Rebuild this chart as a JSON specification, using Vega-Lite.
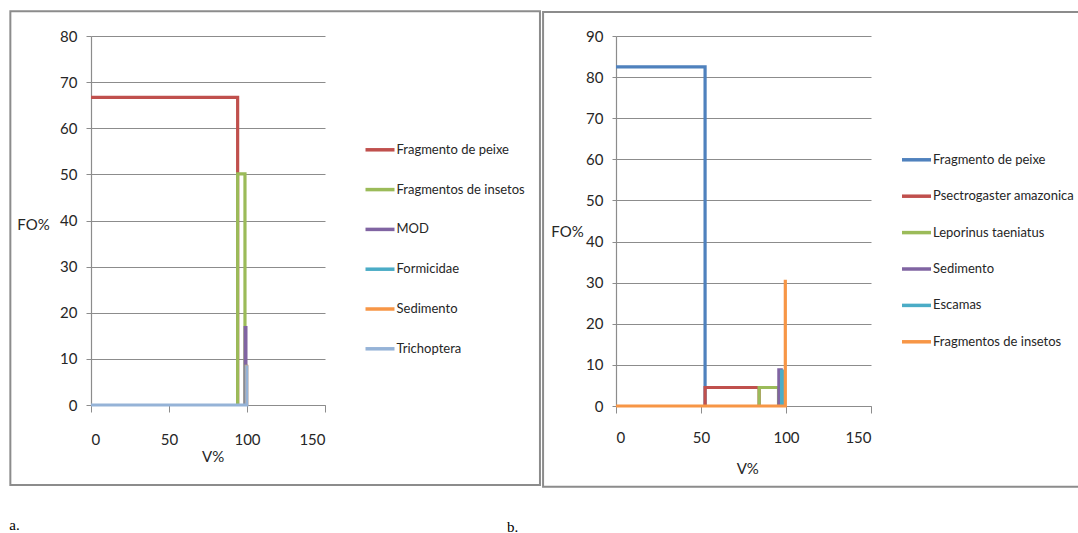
{
  "$schema": "https://vega.github.io/schema/vega-lite/v6.json",
  "padding": {"left": 9, "top": 10, "right": 0, "bottom": 0},
  "background": "white",
  "spacing": -34,
  "config": {
    "view": {"stroke": null},
    "font": "Lato",
    "axis": {
      "labelFont": "Lato", "labelFontSize": 15, "labelColor": "#262626",
      "titleFont": "Lato", "titleFontSize": 15, "titleFontWeight": "normal", "titleColor": "#262626",
      "domainColor": "#8c8c8c", "tickColor": "#8c8c8c", "gridColor": "#8c8c8c", "domainWidth": 1.2, "gridWidth": 1
    },
    "legend": {
      "labelFont": "Lato", "labelFontSize": 13, "labelColor": "#262626", "symbolType": "stroke",
      "symbolSize": 841, "symbolStrokeWidth": 3.5, "labelOffset": 0, "padding": 0, "labelLimit": 300
    },
    "title": {"font": "Liberation Serif", "fontSize": 15, "fontWeight": "normal", "color": "#000"}
  },
  "resolve": {"scale": {"color": "independent", "x": "independent", "y": "independent"}, "legend": {"color": "independent"}},
  "hconcat": [
    {
      "width": 234, "height": 369,
      "title": {"text": "a.", "orient": "bottom", "anchor": "start", "offset": 44, "baseline": "alphabetic"},
      "layer": [
        {
          "data": {"values": [{}]},
          "mark": {"type": "rect", "fillOpacity": 0, "stroke": "#8c8c8c", "strokeWidth": 2},
          "encoding": {
            "x": {"datum": -51.7, "type": "quantitative", "scale": {"domain": [0, 150], "nice": false, "zero": false},
              "axis": {"values": [0, 50, 100, 150], "grid": false, "tickSize": 7, "labelPadding": 20, "title": "V%", "titleX": 121.6, "titleY": 51.7, "titleAlign": "center", "titleBaseline": "middle"}},
            "x2": {"datum": 287.8},
            "y": {"datum": 85.35, "type": "quantitative", "scale": {"domain": [0, 80], "nice": false, "zero": false},
              "axis": {"values": [0, 10, 20, 30, 40, 50, 60, 70, 80], "grid": true, "tickSize": 5, "labelPadding": 9, "title": "FO%", "titleAngle": 0, "titleX": -58, "titleY": 188, "titleAlign": "center", "titleBaseline": "middle"}},
            "y2": {"datum": -17.33}
          }
        },
        {
          "data": {"values": [
            {"item": "Fragmento de peixe", "i": 1, "V": 0, "FO": 66.7},
            {"item": "Fragmento de peixe", "i": 2, "V": 94, "FO": 66.7},
            {"item": "Fragmento de peixe", "i": 3, "V": 94, "FO": 0},
            {"item": "Fragmentos de insetos", "i": 1, "V": 94, "FO": 0},
            {"item": "Fragmentos de insetos", "i": 2, "V": 94, "FO": 50.1},
            {"item": "Fragmentos de insetos", "i": 3, "V": 98.7, "FO": 50.1},
            {"item": "Fragmentos de insetos", "i": 4, "V": 98.7, "FO": 0},
            {"item": "MOD", "i": 1, "V": 98.8, "FO": 0},
            {"item": "MOD", "i": 2, "V": 98.8, "FO": 16.8},
            {"item": "MOD", "i": 3, "V": 99.3, "FO": 16.8},
            {"item": "MOD", "i": 4, "V": 99.3, "FO": 0},
            {"item": "Formicidae", "i": 1, "V": 99.4, "FO": 0},
            {"item": "Formicidae", "i": 2, "V": 99.4, "FO": 8.4},
            {"item": "Formicidae", "i": 3, "V": 99.6, "FO": 8.4},
            {"item": "Formicidae", "i": 4, "V": 99.6, "FO": 0},
            {"item": "Sedimento", "i": 1, "V": 99.6, "FO": 0},
            {"item": "Sedimento", "i": 2, "V": 99.6, "FO": 8.4},
            {"item": "Sedimento", "i": 3, "V": 99.8, "FO": 8.4},
            {"item": "Sedimento", "i": 4, "V": 99.8, "FO": 0},
            {"item": "Trichoptera", "i": 1, "V": 0, "FO": 0},
            {"item": "Trichoptera", "i": 2, "V": 99.9, "FO": 0},
            {"item": "Trichoptera", "i": 3, "V": 99.9, "FO": 8.6}
          ]},
          "mark": {"type": "line", "strokeWidth": 3.2},
          "encoding": {
            "x": {"field": "V", "type": "quantitative", "scale": {"domain": [0, 150], "nice": false, "zero": false},
              "axis": {"values": [0, 50, 100, 150], "grid": false, "tickSize": 7, "labelPadding": 20, "title": "V%", "titleX": 121.6, "titleY": 51.7, "titleAlign": "center", "titleBaseline": "middle"}},
            "y": {"field": "FO", "type": "quantitative", "scale": {"domain": [0, 80], "nice": false, "zero": false},
              "axis": {"values": [0, 10, 20, 30, 40, 50, 60, 70, 80], "grid": true, "tickSize": 5, "labelPadding": 9, "title": "FO%", "titleAngle": 0, "titleX": -58, "titleY": 188, "titleAlign": "center", "titleBaseline": "middle"}},
            "color": {"field": "item", "type": "nominal",
              "scale": {"domain": ["Fragmento de peixe", "Fragmentos de insetos", "MOD", "Formicidae", "Sedimento", "Trichoptera"],
                        "range": ["#C0504D", "#9BBB59", "#8064A2", "#4BACC6", "#F79646", "#95B3D7"]},
              "legend": {"title": null, "orient": "none", "legendX": 272.5, "legendY": 97.3, "rowPadding": 15.8}},
            "order": {"field": "i", "type": "quantitative"}
          }
        }
      ]
    },
    {
      "width": 255, "height": 370,
      "title": {"text": "b.", "orient": "bottom", "anchor": "start", "offset": 44, "baseline": "alphabetic", "dx": -35},
      "layer": [
        {
          "data": {"values": [{}]},
          "mark": {"type": "rect", "fillOpacity": 0, "stroke": "#8c8c8c", "strokeWidth": 2},
          "encoding": {
            "x": {"datum": -42.9, "type": "quantitative", "scale": {"domain": [0, 150], "nice": false, "zero": false},
              "axis": {"values": [0, 50, 100, 150], "grid": false, "tickSize": 7, "labelPadding": 17, "title": "V%", "titleX": 131.3, "titleY": 62.4, "titleAlign": "center", "titleBaseline": "middle"}},
            "x2": {"datum": 274},
            "y": {"datum": 95.84, "type": "quantitative", "scale": {"domain": [0, 90], "nice": false, "zero": false},
              "axis": {"values": [0, 10, 20, 30, 40, 50, 60, 70, 80, 90], "grid": true, "tickSize": 4, "labelPadding": 9, "title": "FO%", "titleAngle": 0, "titleX": -49, "titleY": 195, "titleAlign": "center", "titleBaseline": "middle"}},
            "y2": {"datum": -19.65}
          }
        },
        {
          "data": {"values": [
            {"item": "Fragmento de peixe", "i": 1, "V": 0, "FO": 82.5},
            {"item": "Fragmento de peixe", "i": 2, "V": 52.4, "FO": 82.5},
            {"item": "Fragmento de peixe", "i": 3, "V": 52.4, "FO": 0},
            {"item": "Psectrogaster amazonica", "i": 1, "V": 52.4, "FO": 0},
            {"item": "Psectrogaster amazonica", "i": 2, "V": 52.4, "FO": 4.5},
            {"item": "Psectrogaster amazonica", "i": 3, "V": 84.2, "FO": 4.5},
            {"item": "Psectrogaster amazonica", "i": 4, "V": 84.2, "FO": 0},
            {"item": "Leporinus taeniatus", "i": 1, "V": 84.2, "FO": 0},
            {"item": "Leporinus taeniatus", "i": 2, "V": 84.2, "FO": 4.5},
            {"item": "Leporinus taeniatus", "i": 3, "V": 95.6, "FO": 4.5},
            {"item": "Leporinus taeniatus", "i": 4, "V": 95.6, "FO": 0},
            {"item": "Sedimento", "i": 1, "V": 95.8, "FO": 0},
            {"item": "Sedimento", "i": 2, "V": 95.8, "FO": 8.8},
            {"item": "Sedimento", "i": 3, "V": 97.2, "FO": 8.8},
            {"item": "Sedimento", "i": 4, "V": 97.2, "FO": 0},
            {"item": "Escamas", "i": 1, "V": 97.4, "FO": 0},
            {"item": "Escamas", "i": 2, "V": 97.4, "FO": 8.5},
            {"item": "Escamas", "i": 3, "V": 98.5, "FO": 8.5},
            {"item": "Escamas", "i": 4, "V": 98.5, "FO": 0},
            {"item": "Fragmentos de insetos", "i": 1, "V": 0, "FO": 0},
            {"item": "Fragmentos de insetos", "i": 2, "V": 99.6, "FO": 0},
            {"item": "Fragmentos de insetos", "i": 3, "V": 99.6, "FO": 30.7}
          ]},
          "mark": {"type": "line", "strokeWidth": 3.2},
          "encoding": {
            "x": {"field": "V", "type": "quantitative", "scale": {"domain": [0, 150], "nice": false, "zero": false},
              "axis": {"values": [0, 50, 100, 150], "grid": false, "tickSize": 7, "labelPadding": 17, "title": "V%", "titleX": 131.3, "titleY": 62.4, "titleAlign": "center", "titleBaseline": "middle"}},
            "y": {"field": "FO", "type": "quantitative", "scale": {"domain": [0, 90], "nice": false, "zero": false},
              "axis": {"values": [0, 10, 20, 30, 40, 50, 60, 70, 80, 90], "grid": true, "tickSize": 4, "labelPadding": 9, "title": "FO%", "titleAngle": 0, "titleX": -49, "titleY": 195, "titleAlign": "center", "titleBaseline": "middle"}},
            "color": {"field": "item", "type": "nominal",
              "scale": {"domain": ["Fragmento de peixe", "Psectrogaster amazonica", "Leporinus taeniatus", "Sedimento", "Escamas", "Fragmentos de insetos"],
                        "range": ["#4F81BD", "#C0504D", "#9BBB59", "#8064A2", "#4BACC6", "#F79646"]},
              "legend": {"title": null, "orient": "none", "legendX": 284, "legendY": 107.3, "rowPadding": 12.4}},
            "order": {"field": "i", "type": "quantitative"}
          }
        }
      ]
    }
  ]
}
